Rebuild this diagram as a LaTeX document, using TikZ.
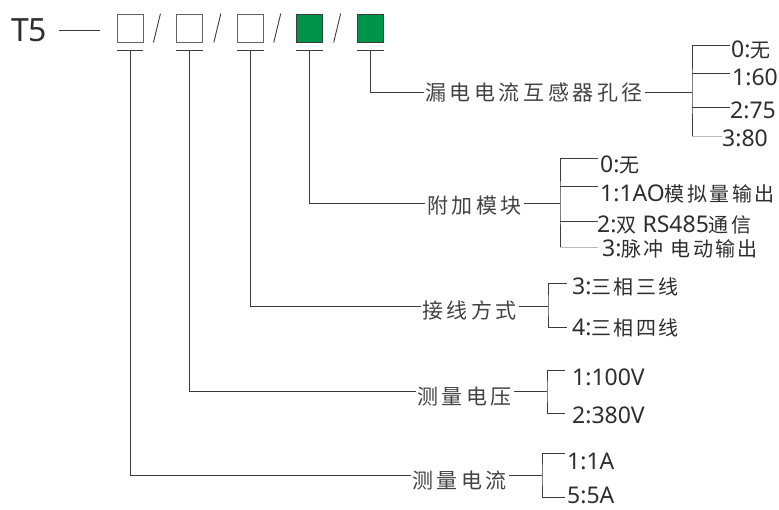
\documentclass[tikz,border=0pt]{standalone}
\usepackage{fontspec}
\setmainfont{Noto Sans}
\newfontfamily\zh[LetterSpace=17]{Noto Sans CJK SC}
\newfontfamily\zhopt[LetterSpace=12]{Noto Sans CJK SC}
\usetikzlibrary{positioning, calc}
\definecolor{CodeGreen}{HTML}{00934A}
\definecolor{LineGray}{HTML}{3C3C3C}
\definecolor{TextGray}{HTML}{2E2E2E}
% Chinese part inside an option text
\newcommand{\optzh}[1]{{\zhopt\fontsize{20}{24}\selectfont #1}}
\tikzset{
    % one line width for every connector
    ln/.style={draw=LineGray, line width=0.9pt},
    faint_ln/.style={draw=LineGray!35, line width=0.9pt},
    % empty code square
    code_box/.style={
        rectangle,
        draw=LineGray!80,
        line width=0.9pt,
        minimum width=26pt,
        minimum height=28pt,
        inner sep=0pt
    },
    % filled (fixed) code square
    code_fill/.style={
        code_box,
        fill=CodeGreen,
        draw=LineGray
    },
    lbl/.style={
        anchor=west,
        inner sep=0pt,
        text=TextGray!90,
        font=\zh\fontsize{21}{24}\selectfont
    },
    opt/.style={
        anchor=west,
        inner sep=0pt,
        text=TextGray,
        font=\fontsize{23}{26}\selectfont
    }
}

\begin{document}
\begin{tikzpicture}[x=1pt, y=-1pt]
    \useasboundingbox (0,0) rectangle (779,509);
    \fill[white] (0,0) rectangle (779,509);

    % --- MODEL CODE ---
    \node[anchor=west, inner sep=0pt, text=TextGray, font=\fontsize{32}{36}\selectfont] (model) at (11,30.5) {T5};
    \node[code_box] (c1) at (130,28) {};
    \node[code_box, right=33pt of c1] (c2) {};
    \node[code_box, right=34pt of c2] (c3) {};
    \node[code_fill, right=32pt of c3] (c4) {};
    \node[code_fill, right=34pt of c4] (c5) {};

    \draw[ln, shorten <=12pt, shorten >=17pt] (model.east) -- (model.east -| c1.west);

    % slashes between the squares
    \draw[ln] ($(c1.south east)!0.5!(c2.south west)+(-6.5,0)$) -- ($(c1.north east)!0.5!(c2.north west)+(0.5,0)$);
    \draw[ln] ($(c2.south east)!0.5!(c3.south west)+(-6.5,0)$) -- ($(c2.north east)!0.5!(c3.north west)+(0.5,0)$);
    \draw[ln] ($(c3.south east)!0.5!(c4.south west)+(-6.5,0)$) -- ($(c3.north east)!0.5!(c4.north west)+(0.5,0)$);
    \draw[ln] ($(c4.south east)!0.5!(c5.south west)+(-6.5,0)$) -- ($(c4.north east)!0.5!(c5.north west)+(0.5,0)$);

    % bars under the squares
    \draw[ln] ($(c1.south west)+(0,8)$) -- ($(c1.south east)+(0,8)$) coordinate[pos=0.5] (b1);
    \draw[ln] ($(c2.south west)+(0,8)$) -- ($(c2.south east)+(0,8)$) coordinate[pos=0.5] (b2);
    \draw[ln] ($(c3.south west)+(0,8)$) -- ($(c3.south east)+(0,8)$) coordinate[pos=0.5] (b3);
    \draw[ln] ($(c4.south west)+(0,8)$) -- ($(c4.south east)+(0,8)$) coordinate[pos=0.5] (b4);
    \draw[ln] ($(c5.south west)+(0,8)$) -- ($(c5.south east)+(0,8)$) coordinate[pos=0.5] (b5);

    % --- LABELS ---
    \node[lbl] (hole) at (425,92) {漏电电流互感器孔径};
    \node[lbl] (addon) at (427,206) {附加模块};
    \node[lbl] (wire) at (422,310) {接线方式};
    \node[lbl] (volt) at (417,397) {测量电压};
    \node[lbl] (curr) at (412,480) {测量电流};

    \coordinate (holefork) at (692,92);
    \coordinate (addfork) at (560,203);
    \coordinate (wirefork) at (548,306);
    \coordinate (voltfork) at (547,391);
    \coordinate (currfork) at (542,475);

    % --- OPTIONS ---
    \node[opt] (h0) at (731,50) {0:\optzh{无}};
    \node[opt] (h1) at (732,77) {1:60};
    \node[opt] (h2) at (730,110) {2:75};
    \node[opt] (h3) at (722,138) {3:80};

    \node[opt] (a0) at (600,165) {0:\optzh{无}};
    \node[opt] (a1) at (600,194) {1:1AO\optzh{模拟量输出}};
    \node[opt] (a2) at (597,225) {2:\optzh{双} RS485\optzh{通信}};
    \node[opt] (a3) at (602,249) {3:\optzh{脉冲 电动输出}};

    \node[opt] (w3) at (572,287) {3:\optzh{三相三线}};
    \node[opt] (w4) at (572,328) {4:\optzh{三相四线}};

    \node[opt] (v1) at (572,377) {1:100V};
    \node[opt] (v2) at (572,415) {2:380V};

    \node[opt] (i1) at (567,461) {1:1A};
    \node[opt] (i5) at (567,495) {5:5A};

    % branch ends in front of the options
    \coordinate (h0tip) at ([shift={(-1pt,5pt)}]h0.west);
    \coordinate (h1tip) at ([shift={(-2pt,4pt)}]h1.west);
    \coordinate (h2tip) at ([shift={(0pt,3pt)}]h2.west);
    \coordinate (h3tip) at ([shift={(0pt,2pt)}]h3.west);
    \coordinate (a0tip) at ([shift={(-2pt,7pt)}]a0.west);
    \coordinate (a1tip) at ([shift={(-2pt,8pt)}]a1.west);
    \coordinate (a2tip) at ([shift={(1pt,4pt)}]a2.west);
    \coordinate (a3tip) at ([shift={(-4pt,2pt)}]a3.west);

    % --- CONNECTIONS ---

    % leakage transformer hole
    \draw[ln] (b5) |- ([xshift=-1pt]hole.west);
    \draw[ln] ([xshift=2pt]hole.east) -- (holefork);
    \draw[ln] (h0tip) -| (holefork) -- (holefork |- h3tip);
    \draw[ln] (holefork |- h1tip) -- (h1tip);
    \draw[ln] (holefork |- h2tip) -- (h2tip);
    \draw[faint_ln] (holefork |- h3tip) -- (h3tip);

    % add-on module
    \draw[ln] (b4) |- ([shift={(-2pt,3pt)}]addon.west);
    \draw[ln] ([shift={(2pt,3pt)}]addon.east) -- (addfork);
    \draw[ln] (a0tip) -| (addfork) -- (addfork |- a3tip);
    \draw[ln] (addfork |- a1tip) -- (a1tip);
    \draw[ln] (addfork |- a2tip) -- (a2tip);
    \draw[faint_ln] (addfork |- a3tip) -- (a3tip);

    % wiring
    \draw[ln] (b3) |- ([shift={(-1pt,4pt)}]wire.west);
    \draw[ln] ([shift={(2pt,4pt)}]wire.east) -- (wirefork);
    \draw[ln] ([shift={(-5pt,4pt)}]w3.west) -| (wirefork) |- ([shift={(-5pt,1pt)}]w4.west);

    % voltage
    \draw[ln] (b2) |- ([shift={(-1pt,6pt)}]volt.west);
    \draw[ln] ([shift={(2pt,6pt)}]volt.east) -- (voltfork);
    \draw[ln] ([shift={(-7pt,7pt)}]v1.west) -| (voltfork) |- ([shift={(-7pt,2pt)}]v2.west);

    % current
    \draw[ln] (b1) |- ([shift={(-1pt,5pt)}]curr.west);
    \draw[ln] ([shift={(2pt,5pt)}]curr.east) -- (currfork);
    \draw[ln] ([shift={(-2pt,8pt)}]i1.west) -| (currfork) |- ([shift={(-2pt,-2pt)}]i5.west);

\end{tikzpicture}
\end{document}
